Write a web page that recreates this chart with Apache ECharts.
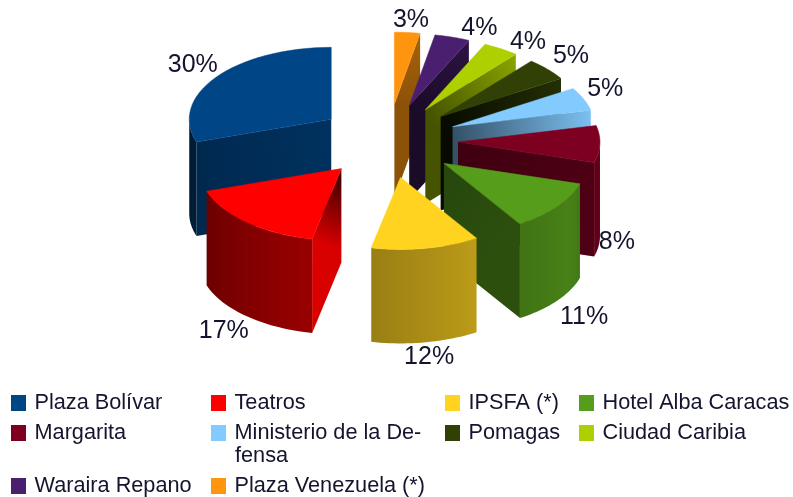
<!DOCTYPE html>
<html>
<head>
<meta charset="utf-8">
<script src="https://cdn.jsdelivr.net/npm/echarts@6/dist/echarts.min.js"></script>
<style>
html, body { margin: 0; padding: 0; background: #fff; }
#main { width: 793px; height: 497px; }
</style>
</head>
<body>
<div id="main"></div>
<script>
var categories = ['Plaza Bolívar', 'Teatros', 'IPSFA (*)', 'Hotel Alba Caracas', 'Margarita',
    'Ministerio de la Defensa', 'Pomagas', 'Ciudad Caribia', 'Waraira Repano', 'Plaza Venezuela (*)'];
var percents = [30.1, 16.6, 12.3, 11.4, 8.3, 5.2, 5.1, 4.1, 4.0, 2.9];
var colors = ['#004586', '#ff0000', '#ffd320', '#579d1c', '#7e0021',
    '#83caff', '#314004', '#aecf00', '#4b1f6f', '#ff950e'];

// back to front
var drawOrder = [9, 8, 7, 6, 5, 4, 0, 1, 3, 2];
// brightness of the radial walls: [apex side, rim side]
var wallShades = [[0.72, 0.6], [0.2, 0.85], null, [0.45, 0.5], [0.5, 0.62],
    [0.4, 0.95], [0.15, 0.75], [0.4, 0.8], [0.35, 0.6], [0.55, 0.65]];
// small nudges of the percent labels
var labelNudge = [[1, 5], [-3, -8], [-2, -15], [3, -2], [-13, 3],
    [-6, 2], [1, 7], [11, 19], [18, 20], [1, 18]];
// legend: column of swatch x, row y
var legendX = [11, 211, 445, 579, 11, 211, 445, 579, 11, 211];
var legendY = [392, 392, 392, 392, 422, 422, 422, 422, 475, 475];

var cx = 388, cy = 141, rx = 142, ry = 72;
var explodeX = 70, explodeY = 37, depth = 94;
var total = percents.reduce(function (a, b) { return a + b; }, 0);

function shade(hex, f) {
    var n = parseInt(hex.slice(1), 16);
    var r = Math.round((n >> 16 & 255) * f), g = Math.round((n >> 8 & 255) * f), b = Math.round((n & 255) * f);
    return 'rgb(' + r + ',' + g + ',' + b + ')';
}
function pt(x, y, deg, a, b) {
    var t = deg * Math.PI / 180;
    return [x - Math.sin(t) * a, y - Math.cos(t) * b];
}
function arcShade(deg) {
    if (deg > 240) return 0.82 - (deg - 240) * 0.004;
    return 0.42 + 0.4 * (deg - 109) / 131;
}
function linear(p0, p1, stops) {
    return { type: 'linear', x: p0[0], y: p0[1], x2: p1[0], y2: p1[1], global: true, colorStops: stops };
}

function sliceItem(i) {
    return function (params, api) {
        var before = 0;
        for (var k = 0; k < i; k++) before += percents[k];
        var a = before / total * 360;
        var b = a + api.value(0) / total * 360;
        var mid = (a + b) / 2;
        var apex = pt(cx, cy, mid, explodeX, explodeY);
        var color = colors[i];
        var children = [];

        function wall(deg, shades) {
            var rim = pt(apex[0], apex[1], deg, rx, ry);
            children.push({
                type: 'polygon',
                shape: { points: [apex, rim, [rim[0], rim[1] + depth], [apex[0], apex[1] + depth]] },
                style: { fill: linear(apex, rim, [
                    { offset: 0, color: shade(color, shades[0]) },
                    { offset: 1, color: shade(color, shades[1]) }
                ]) }
            });
        }
        // radial walls facing the viewer
        if (Math.sin(a * Math.PI / 180) < -0.01) wall(a, wallShades[i]);
        if (Math.sin(b * Math.PI / 180) > 0.01) wall(b, wallShades[i]);

        // rim wall, only the part on the near side
        var from = Math.max(a, 90), to = Math.min(b, 270);
        if (to > from) {
            var upper = [], lower = [], stops = [];
            var x0 = pt(apex[0], apex[1], from, rx, ry)[0], x1 = pt(apex[0], apex[1], to, rx, ry)[0];
            for (var s = 0; s <= 24; s++) {
                var deg = from + (to - from) * s / 24;
                var p = pt(apex[0], apex[1], deg, rx, ry);
                upper.push(p);
                lower.unshift([p[0], p[1] + depth]);
                stops.push({ offset: (p[0] - x0) / (x1 - x0), color: shade(color, arcShade(deg)) });
            }
            children.push({
                type: 'polygon',
                shape: { points: upper.concat(lower) },
                style: { fill: linear([x0, 0], [x1, 0], stops) }
            });
        }

        // top face
        var top = [apex];
        for (var t = 0; t <= 32; t++) {
            top.push(pt(apex[0], apex[1], a + (b - a) * t / 32, rx, ry));
        }
        children.push({ type: 'polygon', shape: { points: top }, style: { fill: color, stroke: color, lineWidth: 0.5 } });

        // percent label
        var lp = pt(apex[0], apex[1], mid, rx + 30, ry + 30);
        if (Math.cos(mid * Math.PI / 180) < 0) lp[1] += depth;
        children.push({
            type: 'text',
            z2: 100,
            style: {
                x: lp[0] + labelNudge[i][0],
                y: lp[1] + labelNudge[i][1],
                text: Math.round(api.value(0)) + '%',
                align: 'center',
                verticalAlign: 'middle',
                fill: '#14142e',
                font: '25px "Liberation Sans"'
            }
        });
        return { type: 'group', children: children };
    };
}

var chart = echarts.init(document.getElementById('main'));
chart.setOption({
    animation: false,
    backgroundColor: '#fff',
    legend: categories.map(function (name, i) {
        return {
            data: [name],
            left: legendX[i],
            top: legendY[i],
            padding: 0,
            itemWidth: 15,
            itemHeight: 16,
            icon: 'rect',
            selectedMode: false,
            formatter: function (n) { return n === 'Ministerio de la Defensa' ? 'Ministerio de la De-' : n; },
            textStyle: { fontFamily: 'Liberation Sans', fontSize: 21.7, color: '#14142e', padding: [3, 0, 0, 3.5] }
        };
    }),
    graphic: [{
        type: 'text', left: 235, top: 445,
        style: { text: 'fensa', fill: '#14142e', font: '21.7px "Liberation Sans"' }
    }],
    series: drawOrder.map(function (i) {
        return {
            type: 'custom',
            name: categories[i],
            coordinateSystem: 'none',
            itemStyle: { color: colors[i] },
            silent: true,
            data: [[percents[i]]],
            renderItem: sliceItem(i)
        };
    })
});
</script>
</body>
</html>
